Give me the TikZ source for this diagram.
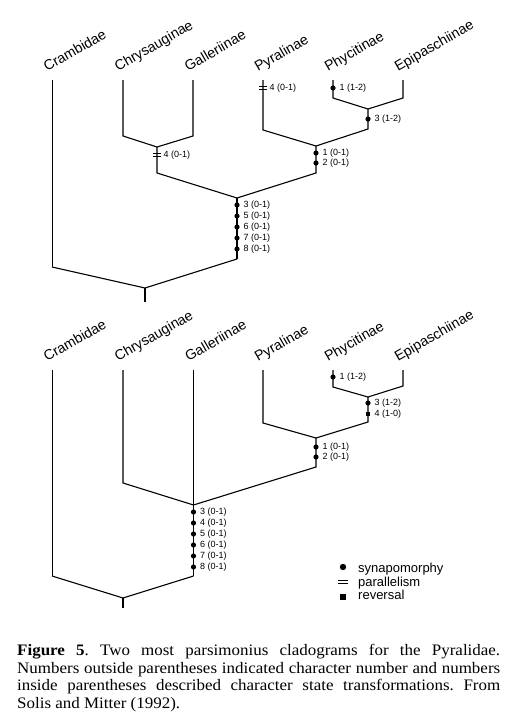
\documentclass[tikz,border=0pt]{standalone}
\usepackage{fontspec}
\setmainfont{Liberation Serif}
\newfontfamily\sansf{Liberation Sans}
\newfontfamily\capf[FakeStretch=1.06]{Liberation Serif}
\begin{document}
\begin{tikzpicture}[x=1pt,y=-1pt,
  br/.style={line width=1.1pt, line join=miter},
  taxon/.style={font=\sansf\fontsize{14.2}{15}\selectfont, rotate=30, anchor=base west, inner sep=0pt},
  chr/.style={font=\sansf\fontsize{9}{10}\selectfont, anchor=west, inner sep=0pt, xshift=6.5pt},
  syn/.style={circle, fill, inner sep=0pt, minimum size=5.2pt},
  rev/.style={rectangle, fill, inner sep=0pt, minimum size=4.8pt},
  parbox/.style={rectangle, inner sep=0pt, minimum width=8pt, minimum height=2.8pt},
  parline/.style={line width=0.8pt},
  leg/.style={font=\sansf\fontsize{13}{14}\selectfont, anchor=base west, inner sep=0pt}
]
\useasboundingbox (0,0) rectangle (510,728);
\fill[white] (0,0) rectangle (510,728);

% ================= TOP TREE =================
\foreach \n/\x/\t in {aC/52/Crambidae, aCh/123/Chrysauginae, aG/193/Galleriinae, aP/263/Pyralinae, aPh/333/Phycitinae, aE/403/Epipaschiinae}{
  \coordinate (\n) at (\x,80);
  \node[taxon] (\n lab) at (\x-5,72) {\t};
}
\coordinate (aCb) at (52,267);
\coordinate (aChb) at (123,136);
\coordinate (aGb) at (193,136);
\coordinate (aPb) at (263,130);
\coordinate (aPhb) at (333,98);
\coordinate (aEb) at (403,98);
\coordinate (aJPE) at (368,109);
\coordinate (aJPEb) at (368,129);
\coordinate (aJPPE) at (316,146);
\coordinate (aJPPEb) at (316,173);
\coordinate (aJCG) at (157,147);
\coordinate (aJCGb) at (157,173);
\coordinate (aJM) at (237,198);
\coordinate (aJMb) at (237,259);
\coordinate (aR) at (145,288);
\coordinate (aRb) at (145,302);

\draw[line width=0.8pt] (aC) -- (aCb);
\draw[br] (aCb) -- (aR) -- (aJMb);
\draw[br] (aR) -- (aRb);
\draw[br] (aCh) -- (aChb) -- (aJCG) -- (aGb) -- (aG);
\draw[br] (aJCG) -- (aJCGb) -- (aJM) -- (aJPPEb) -- (aJPPE);
\draw[br] (aJM) -- (aJMb);
\draw[br] (aP) -- (aPb) -- (aJPPE) -- (aJPEb) -- (aJPE);
\draw[br] (aPh) -- (aPhb) -- (aJPE) -- (aEb) -- (aE);

% markers top
\node[parbox] (apar1) at (263,88) {};
\draw[parline] (apar1.north west) -- (apar1.north east) (apar1.south west) -- (apar1.south east);
\node[chr] (aparl1) at (263,88) {4 (0-1)};
\node[syn] (as1) at (333,88) {};
\node[chr] (asl1) at (333,88) {1 (1-2)};
\node[syn] (as2) at (368,119) {};
\node[chr] (asl2) at (368,119) {3 (1-2)};
\node[syn] (as3) at (316,153) {};
\node[chr] (asl3) at (316,153) {1 (0-1)};
\node[syn] (as4) at (316,163) {};
\node[chr] (asl4) at (316,163) {2 (0-1)};
\node[parbox] (apar2) at (157,155) {};
\draw[parline] (apar2.north west) -- (apar2.north east) (apar2.south west) -- (apar2.south east);
\node[chr] (aparl2) at (157,155) {4 (0-1)};
\foreach \y/\c [count=\i] in {205/3, 216/5, 227/6, 238/7, 249/8}{
  \node[syn] (am\i) at (237,\y) {};
  \node[chr] (aml\i) at (237,\y) {\c\ (0-1)};
}

% ================= BOTTOM TREE =================
\foreach \n/\x/\t in {bC/52/Crambidae, bCh/123/Chrysauginae, bG/193.5/Galleriinae, bP/263/Pyralinae, bPh/333/Phycitinae, bE/403/Epipaschiinae}{
  \coordinate (\n) at (\x,370);
  \node[taxon] (\n lab) at (\x-5,362) {\t};
}
\coordinate (bCb) at (52,576);
\coordinate (bChb) at (123,483);
\coordinate (bPb) at (263,423);
\coordinate (bPhb) at (333,387);
\coordinate (bEb) at (403,386);
\coordinate (bJPE) at (368,397);
\coordinate (bJPEb) at (368,422);
\coordinate (bJPPE) at (316,438);
\coordinate (bJPPEb) at (316,467);
\coordinate (bJM) at (193.5,505);
\coordinate (bJMb) at (193.5,576);
\coordinate (bR) at (123,598);
\coordinate (bRb) at (123,608);

\draw[line width=0.8pt] (bC) -- (bCb);
\draw[br] (bCb) -- (bR) -- (bJMb);
\draw[br] (bR) -- (bRb);
\draw[br] (bCh) -- (bChb) -- (bJM) -- (bJPPEb) -- (bJPPE);
\draw[br] (bG) -- (bJMb);
\draw[br] (bP) -- (bPb) -- (bJPPE) -- (bJPEb) -- (bJPE);
\draw[br] (bPh) -- (bPhb) -- (bJPE) -- (bEb) -- (bE);

% markers bottom
\node[syn] (bs1) at (333,377) {};
\node[chr] (bsl1) at (333,377) {1 (1-2)};
\node[syn] (bs2) at (368,403) {};
\node[chr] (bsl2) at (368,403) {3 (1-2)};
\node[rev] (br1) at (368,414) {};
\node[chr] (brl1) at (368,414) {4 (1-0)};
\node[syn] (bs3) at (316,447) {};
\node[chr] (bsl3) at (316,447) {1 (0-1)};
\node[syn] (bs4) at (316,457) {};
\node[chr] (bsl4) at (316,457) {2 (0-1)};
\foreach \y/\c [count=\i] in {512/3, 523/4, 534/5, 545/6, 556/7, 567/8}{
  \node[syn] (bm\i) at (193.5,\y) {};
  \node[chr] (bml\i) at (193.5,\y) {\c\ (0-1)};
}

% ================= LEGEND =================
\node[syn, minimum size=6.4pt] (lsyn) at (343,567) {};
\node[leg] (lsynt) at (358,572) {synapomorphy};
\node[parbox, minimum width=10pt, minimum height=3.4pt] (lpar) at (343,582) {};
\draw[line width=1pt] (lpar.north west) -- (lpar.north east) (lpar.south west) -- (lpar.south east);
\node[leg] (lpart) at (358,586) {parallelism};
\node[rev, minimum size=5.4pt] (lrev) at (343,597) {};
\node[leg] (lrevt) at (358,599) {reversal};

% ================= CAPTION =================
\node[anchor=north west, inner sep=0pt, text width=483pt, align=justify,
      font=\capf\fontsize{16}{17.7}\selectfont\frenchspacing] (cap) at (17,644)
{\textbf{Figure 5}. Two most parsimonius cladograms for the Pyralidae.\linebreak
Numbers outside parentheses indicated character number and numbers\linebreak
inside parentheses described character state transformations. From\linebreak
Solis and Mitter (1992).};
\end{tikzpicture}
\end{document}
